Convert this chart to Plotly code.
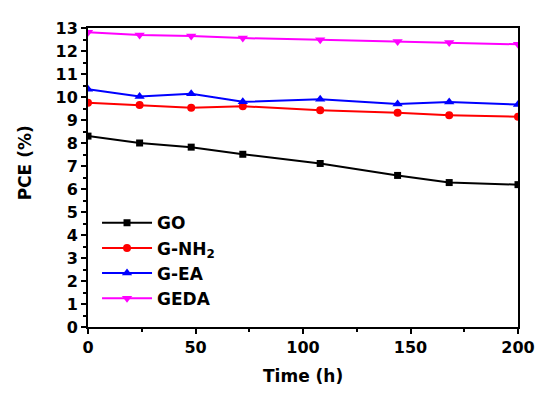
import plotly.graph_objects as go

time_h = [0, 24, 48, 72, 108, 144, 168, 200]
go_vals = [8.30, 8.00, 7.82, 7.51, 7.11, 6.59, 6.28, 6.19]
nh2_vals = [9.75, 9.65, 9.53, 9.60, 9.42, 9.31, 9.21, 9.14]
ea_vals = [10.34, 10.02, 10.14, 9.79, 9.90, 9.70, 9.78, 9.67]
geda_vals = [12.82, 12.70, 12.65, 12.56, 12.49, 12.41, 12.37, 12.29]

series = [
    ("GO", go_vals, "#000000", "square", 7),
    ("G-NH<sub>2</sub>", nh2_vals, "#FF0000", "circle", 8),
    ("G-EA", ea_vals, "#0000FF", "triangle-up", 9),
    ("GEDA", geda_vals, "#FF00FF", "triangle-down", 9),
]

FONT = "DejaVu Sans"

fig = go.Figure()
for name, vals, color, sym, sz in series:
    fig.add_trace(go.Scatter(
        x=time_h, y=vals, name=name, mode="lines+markers",
        line=dict(color=color, width=2),
        marker=dict(symbol=sym, size=sz, color=color),
    ))

axis_common = dict(
    showline=True, linecolor="black", linewidth=2, mirror=True,
    ticks="outside", ticklen=5, tickwidth=2, tickcolor="black",
    showgrid=False, zeroline=False,
    tickfont=dict(family=FONT, size=16, color="black", weight="bold"),
)

fig.update_xaxes(range=[0, 200], tickvals=[0, 50, 100, 150, 200],
                 minor=dict(ticks="outside", ticklen=3, tickwidth=2, tickcolor="black", dtick=25, tick0=0),
                 **axis_common)
fig.update_yaxes(range=[0, 13], dtick=1, tick0=0,
                 minor=dict(ticks="outside", ticklen=3, tickwidth=2, tickcolor="black", dtick=0.5, tick0=0),
                 **axis_common)

fig.add_annotation(text="Time (h)", xref="paper", yref="paper", x=0.5, y=-0.163,
                   xanchor="center", yanchor="middle", showarrow=False,
                   font=dict(family=FONT, size=17, color="black", weight="bold"))
fig.add_annotation(text="PCE (%)", xref="paper", yref="paper", x=-0.147, y=0.55,
                   xanchor="center", yanchor="middle", showarrow=False, textangle=-90,
                   font=dict(family=FONT, size=17, color="black", weight="bold"))

fig.update_layout(
    width=543, height=389,
    margin=dict(l=80, r=33, t=11, b=70),
    paper_bgcolor="white", plot_bgcolor="white",
    showlegend=True,
    legend=dict(x=0.021, y=0.407, xanchor="left", yanchor="top",
                bgcolor="rgba(0,0,0,0)", borderwidth=0, itemwidth=50,
                font=dict(family=FONT, size=17, color="black", weight="bold"),
                tracegroupgap=0),
)

fig.write_html("out.html")
